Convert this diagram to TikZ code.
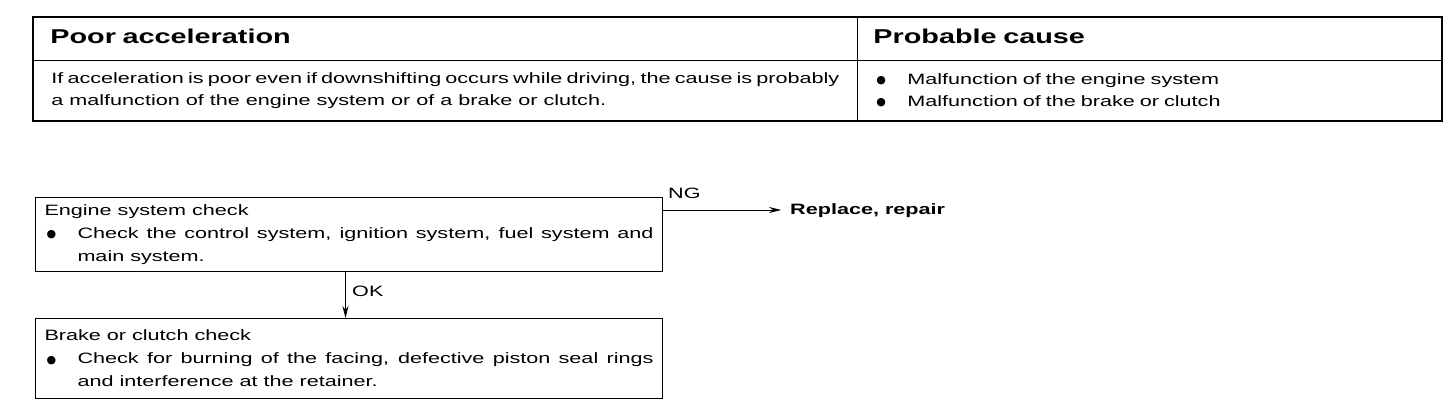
\documentclass[tikz,border=0pt]{standalone}
\usepackage{fontspec}
\setmainfont[FakeStretch=1.44]{Liberation Sans}
\newfontfamily\symfont{DejaVu Sans}
\newcommand{\blt}{\raisebox{0.6pt}{\symfont\fontsize{11}{11}\selectfont ●}}
\usetikzlibrary{arrows.meta,calc}
\begin{document}
\begin{tikzpicture}[x=1pt,y=-1pt,
  cell/.style={draw,line width=0.8pt,anchor=north west,inner ysep=0pt,align=left},
  head/.style={cell,font=\fontsize{20}{24}\selectfont\bfseries,minimum height=43pt,text height=15pt,text depth=6.6pt},
  body/.style={cell,font=\fontsize{15}{22}\selectfont,minimum height=60pt},
  box/.style={draw,line width=1pt,anchor=north west,inner xsep=9pt,inner ysep=0pt,
    text width=609pt,align=justify,font=\fontsize{15}{23}\selectfont},
  lbl/.style={inner sep=0pt,font=\fontsize{15}{18}\selectfont},
  arr/.style={line width=0.8pt,-{Stealth[length=12pt,width=6pt]}}]
\useasboundingbox (0,0) rectangle (1456,406);
% table
\node[head,minimum width=824pt,text width=790pt,inner xsep=17pt] (h1) at (33,17) {Poor acceleration};
\node[head,minimum width=584pt,text width=552pt,inner xsep=16pt] (h2) at (857,17) {Probable cause};
\node[body,minimum width=824pt,text width=788pt,inner xsep=17pt,align=justify] (b1) at (33,60)
  {If acceleration is poor even if downshifting occurs while driving, the cause is probably\linebreak
   a malfunction of the engine system or of a brake or clutch.};
\node[body,minimum width=584pt,text width=546pt,inner xsep=17pt] (b2) at (857,60)
  {\makebox[31pt][l]{\blt}Malfunction of the engine system\\
   \makebox[31pt][l]{\blt}Malfunction of the brake or clutch};
\draw[line width=2.2pt] (h1.north west) rectangle (b2.south east);
% flowchart
\node[box,minimum width=627pt,minimum height=74pt] (eng) at (35,197)
  {Engine system check\\
   \makebox[33pt][l]{\hspace{2pt}\blt}\parbox[t]{576pt}{\baselineskip=23pt\rightskip=0pt\relax Check the control system, ignition system, fuel system and\linebreak main system.}};
\node[box,minimum width=627pt,minimum height=80pt] (brk) at (35,318)
  {Brake or clutch check\\
   \makebox[33pt][l]{\hspace{2pt}\blt}\parbox[t]{576pt}{\baselineskip=23pt\rightskip=0pt\relax Check for burning of the facing, defective piston seal rings\linebreak and interference at the retainer.}};
\node[anchor=west,inner xsep=9pt,inner ysep=2pt,font=\fontsize{15}{18}\selectfont\bfseries] (rep) at (781,211) {Replace, repair};
\node[lbl,anchor=west] (ng) at (668,193) {NG};
\node[lbl,anchor=west] (ok) at (352,291) {OK};
\coordinate (ngs) at ([yshift=-13pt]eng.north east);
\draw[arr] (ngs) -- (ngs -| rep.west);
\draw[arr] ([xshift=-3.5pt]eng.south) -- ([xshift=-3.5pt]brk.north);
\end{tikzpicture}
\end{document}
